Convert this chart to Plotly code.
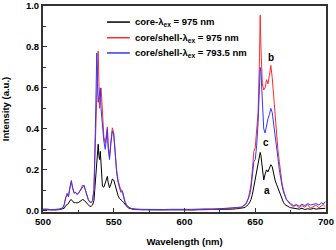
import plotly.graph_objects as go

wavelength = [500, 503, 506, 509, 512, 514, 515, 516, 517, 518, 519, 520, 521, 522, 523, 524, 525, 526, 527, 528, 529,
              530, 531, 532, 533, 534, 535, 536, 537, 537.5, 538, 538.5, 539, 539.5, 540, 540.5, 541, 541.5, 542, 543,
              544, 545, 545.5, 546, 547, 548, 549, 550, 551, 552, 553, 554, 555, 556, 557, 558, 559, 560, 562, 565,
              570, 575, 580, 585, 590, 595, 600, 605, 610, 615, 620, 625, 630, 634, 637, 640, 641, 642, 643, 644,
              645, 646, 647, 648, 649, 650, 651, 652, 653, 653.5, 654, 655, 656, 657, 658, 659, 660, 661, 662, 663,
              664, 665, 666, 667, 668, 669, 670, 671, 672, 673, 674, 675, 677, 679, 681, 683, 685, 687, 689, 691,
              693, 695, 697, 698, 699.5]

core_975 = [0.005, 0.004, 0.006, 0.004, 0.006, 0.008, 0.012, 0.025, 0.03, 0.035, 0.05, 0.055, 0.045, 0.04, 0.04, 0.038, 0.04, 0.045, 0.05, 0.055, 0.052,
            0.045, 0.035, 0.028, 0.022, 0.022, 0.028, 0.05, 0.14, 0.22, 0.26, 0.31, 0.325, 0.27, 0.25, 0.29, 0.22, 0.14, 0.12, 0.115,
            0.14, 0.165, 0.168, 0.14, 0.112, 0.13, 0.155, 0.15, 0.12, 0.09, 0.075, 0.06, 0.055, 0.048, 0.04, 0.03, 0.022, 0.015, 0.01, 0.006,
            0.005, 0.004, 0.005, 0.004, 0.005, 0.004, 0.005, 0.004, 0.005, 0.005, 0.006, 0.006, 0.007, 0.008, 0.01, 0.012, 0.013, 0.015, 0.018, 0.022,
            0.03, 0.04, 0.055, 0.08, 0.12, 0.15, 0.19, 0.22, 0.26, 0.285, 0.27, 0.2, 0.15, 0.18, 0.2, 0.19, 0.21, 0.225, 0.215, 0.18,
            0.15, 0.13, 0.11, 0.095, 0.07, 0.05, 0.04, 0.03, 0.025, 0.02, 0.018, 0.015, 0.012, 0.01, 0.008, 0.012, 0.006, 0.01, 0.007, 0.012,
            0.008, 0.01, 0.012, 0.01, 0.012]

core_shell_975 = [0.008, 0.006, 0.007, 0.005, 0.008, 0.015, 0.03, 0.065, 0.075, 0.07, 0.115, 0.14, 0.11, 0.085, 0.09, 0.08, 0.085, 0.095, 0.11, 0.125, 0.12,
                  0.1, 0.075, 0.055, 0.045, 0.04, 0.05, 0.1, 0.33, 0.48, 0.55, 0.68, 0.78, 0.63, 0.5, 0.56, 0.6, 0.55, 0.46, 0.36,
                  0.33, 0.39, 0.41, 0.33, 0.26, 0.34, 0.405, 0.38, 0.28, 0.2, 0.15, 0.12, 0.1, 0.1, 0.07, 0.045, 0.03, 0.02, 0.012, 0.008,
                  0.006, 0.007, 0.005, 0.006, 0.005, 0.007, 0.006, 0.005, 0.007, 0.008, 0.007, 0.009, 0.01, 0.012, 0.015, 0.015, 0.02, 0.025, 0.03, 0.045,
                  0.06, 0.09, 0.13, 0.2, 0.29, 0.31, 0.38, 0.48, 0.75, 0.955, 0.8, 0.62, 0.59, 0.6, 0.64, 0.62, 0.66, 0.71, 0.65, 0.55,
                  0.45, 0.38, 0.3, 0.24, 0.18, 0.13, 0.1, 0.075, 0.055, 0.045, 0.035, 0.03, 0.02, 0.028, 0.015, 0.025, 0.018, 0.03, 0.012, 0.022,
                  0.028, 0.015, 0.025, 0.03, 0.02]

core_shell_793 = [0.007, 0.008, 0.005, 0.007, 0.009, 0.014, 0.03, 0.06, 0.085, 0.07, 0.12, 0.148, 0.11, 0.088, 0.09, 0.08, 0.085, 0.095, 0.11, 0.12, 0.125,
                  0.1, 0.072, 0.055, 0.042, 0.04, 0.05, 0.1, 0.4, 0.62, 0.77, 0.62, 0.53, 0.55, 0.59, 0.6, 0.5, 0.45, 0.4, 0.34,
                  0.3, 0.38, 0.4, 0.31, 0.25, 0.33, 0.39, 0.37, 0.27, 0.19, 0.14, 0.11, 0.09, 0.095, 0.065, 0.04, 0.028, 0.02, 0.012, 0.008,
                  0.007, 0.006, 0.008, 0.006, 0.007, 0.006, 0.008, 0.007, 0.008, 0.007, 0.009, 0.01, 0.011, 0.013, 0.016, 0.018, 0.02, 0.028, 0.03, 0.04,
                  0.055, 0.075, 0.11, 0.17, 0.24, 0.25, 0.32, 0.43, 0.62, 0.7, 0.68, 0.5, 0.4, 0.38, 0.42, 0.45, 0.47, 0.5, 0.48, 0.43,
                  0.38, 0.33, 0.26, 0.2, 0.15, 0.12, 0.09, 0.07, 0.055, 0.05, 0.04, 0.035, 0.025, 0.03, 0.022, 0.032, 0.025, 0.035, 0.028, 0.03,
                  0.035, 0.028, 0.04, 0.032, 0.045]

series_names = ["core-λ<sub>ex</sub> = 975 nm", "core/shell-λ<sub>ex</sub> = 975 nm", "core/shell-λ<sub>ex</sub> = 793.5 nm"]
series_values = [core_975, core_shell_975, core_shell_793]
series_colors = ["#000000", "#ff2a2a", "#3535ff"]

label_texts = ["a", "b", "c"]
label_x = [658.0, 661.0, 657.4]
label_y = [0.10, 0.75, 0.335]

x_ticks = [500, 550, 600, 650, 700]
y_ticks = [0.0, 0.2, 0.4, 0.6, 0.8, 1.0]

FONT = "Liberation Sans, Arial, sans-serif"
FS = 9.5

fig = go.Figure()
for name, vals, col in zip(series_names, series_values, series_colors):
    fig.add_trace(go.Scatter(x=wavelength, y=vals, mode="lines", name=name,
                             line=dict(color=col, width=1), showlegend=False))

for t, x, y in zip(label_texts, label_x, label_y):
    fig.add_annotation(x=x, y=y, text="<b>%s</b>" % t, showarrow=False,
                       font=dict(family=FONT, size=FS + 0.5, color="#000"))

# legend drawn in paper coordinates
leg_x0, leg_x1, leg_tx = 0.226, 0.307, 0.318
leg_rows = [0.922, 0.846, 0.772]
for name, col, ry in zip(series_names, series_colors, leg_rows):
    fig.add_shape(type="line", xref="paper", yref="paper", x0=leg_x0, x1=leg_x1, y0=ry, y1=ry,
                  line=dict(color=col, width=1.5))
    fig.add_annotation(xref="paper", yref="paper", x=leg_tx, y=ry, xanchor="left", yanchor="middle",
                       text="<b>%s</b>" % name, showarrow=False,
                       font=dict(family=FONT, size=FS, color="#000"))

axis_common = dict(showline=True, mirror=True, linecolor="#333333", linewidth=2,
                   ticks="inside", ticklen=4, tickwidth=1, tickcolor="#333333",
                   showgrid=False, zeroline=False, automargin=False,
                   tickfont=dict(family=FONT, size=FS, color="#000", weight=700))

fig.update_xaxes(range=[500, 700], tickvals=x_ticks, ticktext=[str(v) for v in x_ticks],
                 minor=dict(ticks="inside", ticklen=2.5, tickcolor="#333333", dtick=25, showgrid=False),
                 title=dict(text="Wavelength (nm)", standoff=12,
                            font=dict(family=FONT, size=FS, color="#000", weight=700)),
                 **axis_common)
fig.update_yaxes(range=[-0.006, 1.0], tickvals=y_ticks, ticktext=["%.1f" % v for v in y_ticks],
                 minor=dict(ticks="inside", ticklen=2.5, tickcolor="#333333", dtick=0.1, tick0=0, showgrid=False),
                 title=dict(text="Intensity (a.u.)", standoff=15,
                            font=dict(family=FONT, size=FS, color="#000", weight=700)),
                 **axis_common)

fig.update_layout(
    width=336, height=250,
    margin=dict(l=43, r=10, t=6, b=38),
    plot_bgcolor="white", paper_bgcolor="white",
    showlegend=False,
)

fig.write_html("out.html", config={"displayModeBar": False},
               post_script="document.body.style.margin='0';document.body.style.padding='0';")
